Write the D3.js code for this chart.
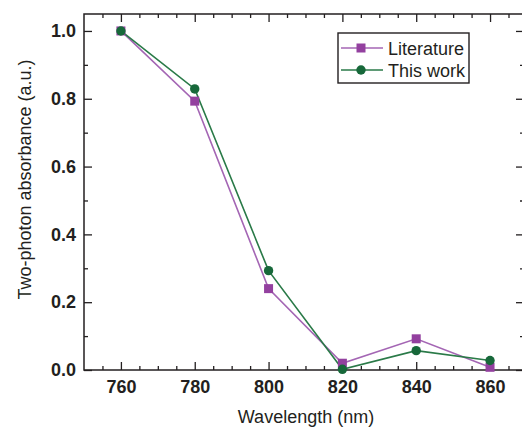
<!DOCTYPE html>
<html><head><meta charset="utf-8">
<script src="https://cdn.jsdelivr.net/npm/d3@7"></script>
<style>body{margin:0;background:#fff}svg{display:block}</style>
</head><body>
<script>
const wavelengths = [760, 780, 800, 820, 840, 860];
const literature = [1.0, 0.793, 0.240, 0.020, 0.092, 0.008];
const thisWork = [1.0, 0.829, 0.293, 0.002, 0.057, 0.028];
const xTicks = [760, 780, 800, 820, 840, 860];
const yTicks = [0.0, 0.2, 0.4, 0.6, 0.8, 1.0];
const seriesNames = ["Literature", "This work"];

const W = 522, H = 428;
const m = {l: 84, t: 14, r: -2, b: 58};
const x = d3.scaleLinear().domain([750, 869.2]).range([m.l, W - m.r]);
const y = d3.scaleLinear().domain([0, 1.05]).range([H - m.b, m.t]);
const ink = "#231f20";
const purple = "#93409f", purpleLine = "#a466b4";
const green = "#17683a", greenLine = "#2a7a48";
const font = "Liberation Sans, Arial, sans-serif";

const svg = d3.select("body").append("svg").attr("width", W).attr("height", H);

// frame
svg.append("rect").attr("x", x.range()[0]).attr("y", y.range()[1])
  .attr("width", x.range()[1] - x.range()[0]).attr("height", y.range()[0] - y.range()[1])
  .attr("fill", "none").attr("stroke", ink).attr("stroke-width", 1.5);

const xMinor = d3.range(755, 869, 5).filter(v => v % 20 !== 0);
const yMinor = d3.range(0.1, 1.05, 0.2).map(v => +v.toFixed(1));

function styleAxis(g) {
  g.select(".domain").remove();
  g.selectAll("line").attr("stroke", ink).attr("stroke-width", 1.3);
  g.selectAll("text").attr("fill", ink).attr("font-family", font)
    .attr("font-size", 18).attr("font-weight", "bold");
}
const yBot = y(0), yTop = y(1.05), xL = x(750), xR = x.range()[1];

// bottom
svg.append("g").attr("transform", `translate(0,${yBot})`)
  .call(d3.axisBottom(x).tickValues(xTicks).tickSize(-8).tickPadding(10).tickFormat(d3.format("d")))
  .call(styleAxis);
svg.append("g").attr("transform", `translate(0,${yBot})`)
  .call(d3.axisBottom(x).tickValues(xMinor).tickSize(-4).tickFormat(""))
  .call(styleAxis);
// top
svg.append("g").attr("transform", `translate(0,${yTop})`)
  .call(d3.axisTop(x).tickValues(xTicks).tickSize(-8).tickFormat(""))
  .call(styleAxis);
svg.append("g").attr("transform", `translate(0,${yTop})`)
  .call(d3.axisTop(x).tickValues(xMinor).tickSize(-4).tickFormat(""))
  .call(styleAxis);
// left
svg.append("g").attr("transform", `translate(${xL},0)`)
  .call(d3.axisLeft(y).tickValues(yTicks).tickSize(-8).tickPadding(8).tickFormat(d3.format(".1f")))
  .call(styleAxis);
svg.append("g").attr("transform", `translate(${xL},0)`)
  .call(d3.axisLeft(y).tickValues(yMinor).tickSize(-4).tickFormat(""))
  .call(styleAxis);
// right
svg.append("g").attr("transform", `translate(${xR},0)`)
  .call(d3.axisRight(y).tickValues(yTicks).tickSize(-8).tickFormat(""))
  .call(styleAxis);
svg.append("g").attr("transform", `translate(${xR},0)`)
  .call(d3.axisRight(y).tickValues(yMinor).tickSize(-4).tickFormat(""))
  .call(styleAxis);

// titles
svg.append("text").attr("x", 306).attr("y", 423).attr("text-anchor", "middle")
  .attr("font-family", font).attr("font-size", 18).attr("fill", ink)
  .text("Wavelength (nm)");
svg.append("text").attr("transform", `translate(31,${(57 + 302) / 2}) rotate(-90)`).attr("text-anchor", "middle")
  .attr("font-family", font).attr("font-size", 18).attr("fill", ink)
  .text("Two-photon absorbance (a.u.)");

const line = d3.line().x(d => x(d[0])).y(d => y(d[1]));
const litData = wavelengths.map((w, i) => [w, literature[i]]);
const workData = wavelengths.map((w, i) => [w, thisWork[i]]);

svg.append("path").datum(litData).attr("d", line).attr("fill", "none").attr("stroke", purpleLine).attr("stroke-width", 1.6);
svg.append("path").datum(workData).attr("d", line).attr("fill", "none").attr("stroke", greenLine).attr("stroke-width", 1.6);

svg.selectAll(".sq").data(litData).join("rect")
  .attr("x", d => x(d[0]) - 4.5).attr("y", d => y(d[1]) - 4.5).attr("width", 9).attr("height", 9).attr("fill", purple);
svg.selectAll(".ci").data(workData).join("circle")
  .attr("cx", d => x(d[0])).attr("cy", d => y(d[1])).attr("r", 4.7).attr("fill", green);

// legend
const lg = svg.append("g");
lg.append("rect").attr("x", 338).attr("y", 33).attr("width", 131).attr("height", 50)
  .attr("fill", "#fff").attr("stroke", ink).attr("stroke-width", 1.4);
const rows = [{name: seriesNames[0], c: purple, lc: purpleLine, t: "sq"}, {name: seriesNames[1], c: green, lc: greenLine, t: "ci"}];
rows.forEach((r, i) => {
  const cy = 48 + i * 22;
  lg.append("line").attr("x1", 341).attr("x2", 383).attr("y1", cy).attr("y2", cy).attr("stroke", r.lc).attr("stroke-width", 1.6);
  if (r.t === "sq") lg.append("rect").attr("x", 361 - 4.5).attr("y", cy - 4.5).attr("width", 9).attr("height", 9).attr("fill", r.c);
  else lg.append("circle").attr("cx", 361).attr("cy", cy).attr("r", 4.7).attr("fill", r.c);
  lg.append("text").attr("x", 388).attr("y", cy + 6.5).attr("font-family", font)
    .attr("font-size", 18).attr("fill", ink).text(r.name);
});
</script>
</body></html>
